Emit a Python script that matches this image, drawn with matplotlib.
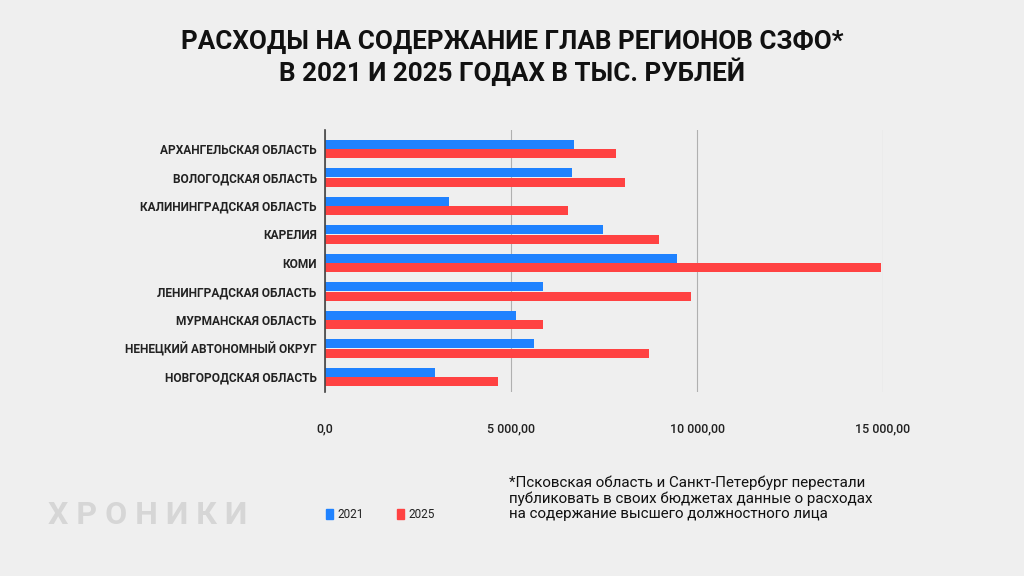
import matplotlib.pyplot as plt

regions = [
    "АРХАНГЕЛЬСКАЯ ОБЛАСТЬ",
    "ВОЛОГОДСКАЯ ОБЛАСТЬ",
    "КАЛИНИНГРАДСКАЯ ОБЛАСТЬ",
    "КАРЕЛИЯ",
    "КОМИ",
    "ЛЕНИНГРАДСКАЯ ОБЛАСТЬ",
    "МУРМАНСКАЯ ОБЛАСТЬ",
    "НЕНЕЦКИЙ АВТОНОМНЫЙ ОКРУГ",
    "НОВГОРОДСКАЯ ОБЛАСТЬ",
]
y2021 = [6700, 6640, 3320, 7460, 9450, 5860, 5140, 5630, 2950]
y2025 = [7810, 8070, 6530, 8990, 14950, 9850, 5870, 8720, 4650]
xticks = [0, 5000, 10000, 15000]
xtick_labels = ["0,0", "5 000,00", "10 000,00", "15 000,00"]

BG = "#efefef"
BLUE = "#1f82ff"
RED = "#ff4242"
plt.rcParams['font.family'] = ['Roboto', 'DejaVu Sans']

fig = plt.figure(figsize=(10.24, 5.76), dpi=100, facecolor=BG)
ax = fig.add_axes([325 / 1024, 1 - 392 / 576, (883 - 325) / 1024, (392 - 130) / 576])
ax.set_facecolor(BG)

h = 0.32
pos = list(range(len(regions)))
ax.barh([p - h / 2 - 0.01 for p in pos], y2021, height=h, color=BLUE, label="2021", zorder=3)
ax.barh([p + h / 2 + 0.01 for p in pos], y2025, height=h, color=RED, label="2025", zorder=3)

ax.set_xlim(0, 15000)
ax.set_ylim(8.53, -0.667)
ax.set_xticks(xticks)
ax.set_xticklabels(xtick_labels, fontsize=9, color="#222222", fontweight="medium")
ax.set_yticks(pos)
ax.set_yticklabels(regions, fontsize=8.6, fontweight="bold", color="#222222")
ax.tick_params(axis="x", length=0, pad=22)
ax.tick_params(axis="y", length=0, pad=6)
ax.grid(axis="x", color="#b0b0b0", linewidth=0.8, zorder=0)
for s in ["top", "right", "bottom"]:
    ax.spines[s].set_visible(False)
ax.spines["left"].set_color("#444444")
ax.spines["left"].set_linewidth(1.2)
ax.spines["left"].set_zorder(4)

fig.text(0.5, 1 - 42 / 576, "РАСХОДЫ НА СОДЕРЖАНИЕ ГЛАВ РЕГИОНОВ СЗФО*",
         ha="center", va="center", fontsize=18.7, fontweight="bold", color="#111111")
fig.text(0.5, 1 - 72 / 576, "В 2021 И 2025 ГОДАХ В ТЫС. РУБЛЕЙ",
         ha="center", va="center", fontsize=18.7, fontweight="bold", color="#111111")

# legend
fig.patches.append(plt.Rectangle((326 / 1024, 1 - 519 / 576), 7 / 1024, 10 / 576,
                                 transform=fig.transFigure, color=BLUE))
fig.text(337 / 1024, 1 - 514 / 576, "2021", ha="left", va="center", fontsize=8.5, color="#222222")
fig.patches.append(plt.Rectangle((397 / 1024, 1 - 519 / 576), 7 / 1024, 10 / 576,
                                 transform=fig.transFigure, color=RED))
fig.text(408 / 1024, 1 - 514 / 576, "2025", ha="left", va="center", fontsize=8.5, color="#222222")

# footnote
fig.text(509 / 1024, 1 - 498 / 576,
         "*Псковская область и Санкт-Петербург перестали\n"
         "публиковать в своих бюджетах данные о расходах\n"
         "на содержание высшего должностного лица",
         ha="left", va="center", fontsize=10.9, color="#111111", linespacing=1.13)

# watermark
fig.text(48 / 1024, 1 - 515 / 576, "Х Р О Н И К И", ha="left", va="center",
         fontsize=23, fontweight="bold", color="#d6d6d6")

fig.savefig("out.png", dpi=100, facecolor=BG)
